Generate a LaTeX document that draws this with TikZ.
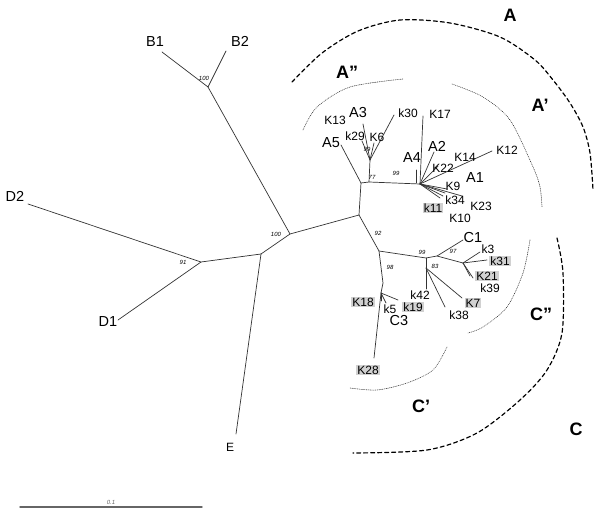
\documentclass[tikz,border=0pt]{standalone}
\usepackage{fontspec}
\setmainfont{Liberation Sans}
\usepackage{tikz}
\usepackage{xcolor}
\usetikzlibrary{arrows.meta}

\begin{document}
\begin{tikzpicture}[line cap=round,line join=round,x=1pt,y=-1pt,
  tree/.style={line width=0.7pt,black!80},
  lab/.style={font=\fontsize{12}{12}\selectfont,inner sep=0.5pt},
  big/.style={font=\fontsize{14.5}{15}\selectfont,inner sep=0.5pt},
  boot/.style={font=\fontsize{6}{6}\selectfont\itshape,inner sep=0pt},
  hl/.style={lab,fill=black!18,inner sep=1pt},
  grp/.style={font=\fontsize{18}{18}\selectfont\bfseries,inner sep=0pt},
  dashedarc/.style={line width=1.2pt,dash pattern=on 4pt off 3pt},
  dottedarc/.style={line width=0.6pt,dash pattern=on 0.6pt off 1.2pt,black!80}]
\useasboundingbox (0,0) rectangle (602,516);

% inner nodes
\coordinate (nB) at (208,87);
\coordinate (nR) at (290,234);
\coordinate (nE) at (261,254);
\coordinate (nD) at (201,262);
\coordinate (nM) at (359,215);
\coordinate (nA) at (361,183);
\coordinate (nA77) at (369,182);
\coordinate (nA3) at (370,160);
\coordinate (nA1) at (420,184);
\coordinate (nC) at (379,251);
\coordinate (nC3) at (383,283);
\coordinate (nC3b) at (381,293);
\coordinate (nC99) at (426,258);
\coordinate (nC97) at (437,256);
\coordinate (nC1) at (463,263);
\coordinate (nC83) at (426,268);

% tips
\coordinate (tB1) at (162,52);
\coordinate (tB2) at (226,51);
\coordinate (tD2) at (28,204);
\coordinate (tD1) at (118,320);
\coordinate (tE) at (236,434);
\coordinate (tA5) at (341,145);
\coordinate (tA3) at (363,124);
\coordinate (tk29) at (362,141);
\coordinate (tK6) at (374,143);
\coordinate (tk30) at (394,115);
\coordinate (tA4b) at (416,183);
\coordinate (tA4) at (416,170);
\coordinate (tK17) at (423,116);
\coordinate (tA2) at (434,152);
\coordinate (tK22) at (438,166);
\coordinate (tK12) at (492,151);
\coordinate (tK9) at (447,189);
\coordinate (tK23) at (462,196);
\coordinate (tk34) at (443,196);
\coordinate (tk11) at (440,198);
\coordinate (tK10) at (445,193);
\coordinate (tC1) at (463,240);
\coordinate (tk3) at (480,252);
\coordinate (tk31) at (487,260);
\coordinate (tK21) at (473,278);
\coordinate (tk39) at (470,276);
\coordinate (tk42) at (426,289);
\coordinate (tK7) at (462,298);
\coordinate (tk38) at (445,307);
\coordinate (tk19) at (398,300);
\coordinate (tk5) at (386,303);
\coordinate (tK18) at (381,301);
\coordinate (tK28) at (374,358);

% branches
\draw [tree] (tB1) -- (nB) -- (tB2);
\draw [tree] (nB) -- (nR) -- (nM);
\draw [tree] (nR) -- (nE) -- (tE);
\draw [tree] (nE) -- (nD) -- (tD2);
\draw [tree] (nD) -- (tD1);
\draw [tree] (nM) -- (nA) -- (tA5);
\draw [tree] (nA) -- (nA77) -- (nA1);
\draw [tree] (nA77) -- (nA3) -- (tA3);
\draw [tree] (nA3) -- (tk29);
\draw [tree] (nA3) -- (tK6);
\draw [tree] (nA3) -- (tk30);
\draw [tree] (tA4b) -- (tA4);
\foreach \t in {tK17,tA2,tK22,tK12,tK9,tK23,tk34,tk11,tK10}
  \draw [tree] (nA1) -- (\t);
\draw [tree] (nM) -- (nC) -- (nC99) -- (nC97) -- (nC1);
\draw [tree] (nC97) -- (tC1);
\foreach \t in {tk3,tk31,tK21,tk39}
  \draw [tree] (nC1) -- (\t);
\draw [tree] (nC99) -- (nC83);
\foreach \t in {tk42,tK7,tk38}
  \draw [tree] (nC83) -- (\t);
\draw [tree] (nC) -- (nC3) -- (nC3b) -- (tK28);
\foreach \t in {tk19,tk5,tK18}
  \draw [tree] (nC3b) -- (\t);

% bootstrap values
\node [boot] (b1) at (204,78) {100};
\node [boot] (b2) at (276,234) {100};
\node [boot] (b3) at (183,262) {91};
\node [boot] (b4) at (372,177) {77};
\node [boot] (b5) at (396,173) {99};
\node [boot] (b6) at (367,149) {99};
\node [boot] (b7) at (378,233) {92};
\node [boot] (b8) at (422,252) {99};
\node [boot] (b9) at (453,251) {97};
\node [boot] (b10) at (390,267) {98};
\node [boot] (b11) at (435,266) {83};

% taxa
\node [big] (lB1) at (155,42) {B1};
\node [big] (lB2) at (240,41) {B2};
\node [big] (lD2) at (15,196) {D2};
\node [big] (lD1) at (108,322) {D1};
\node [lab] (lE) at (230,447) {E};
\node [big] (lA5) at (331,143) {A5};
\node [big] (lA3) at (358,113) {A3};
\node [lab] (lK13) at (335,120) {K13};
\node [lab] (lk29) at (355,136) {k29};
\node [lab] (lK6) at (377,137) {K6};
\node [lab] (lk30) at (408,113) {k30};
\node [lab] (lK17) at (440,114) {K17};
\node [big] (lA2) at (437,146) {A2};
\node [big] (lA4) at (412,158) {A4};
\node [lab] (lK14) at (465,157) {K14};
\node [lab] (lK12) at (507,150) {K12};
\node [lab] (lK22) at (443,168) {K22};
\node [big] (lA1) at (475,178) {A1};
\node [lab] (lK9) at (453,186) {K9};
\node [lab] (lk34) at (455,200) {k34};
\node [lab] (lK23) at (481,206) {K23};
\node [hl] (lk11) at (433,208) {k11};
\node [lab] (lK10) at (460,218) {K10};
\node [big] (lC1) at (473,238) {C1};
\node [lab] (lk3) at (488,249) {k3};
\node [hl] (lk31) at (500,261) {k31};
\node [hl] (lK21) at (487,276) {K21};
\node [lab] (lk39) at (490,288) {k39};
\node [lab] (lk42) at (420,295) {k42};
\node [hl] (lK7) at (473,303) {K7};
\node [lab] (lk38) at (459,315) {k38};
\node [hl] (lK18) at (363,302) {K18};
\node [lab] (lk5) at (390,309) {k5};
\node [big] (lC3) at (399,321) {C3};
\node [hl] (lk19) at (413,307) {k19};
\node [hl] (lK28) at (368,370) {K28};

% groups
\draw [dashedarc] plot [smooth] coordinates {(292,82) (322,53) (358,31) (400,20) (450,23) (500,37) (535,60) (553,80) (570,103) (583,127) (590,153) (593,190)};
\draw [dottedarc] plot [smooth] coordinates {(303,130) (317,107) (350,87) (403,79)};
\draw [dottedarc] plot [smooth] coordinates {(452,84) (483,97) (510,120) (533,167) (540,187) (542,207)};
\draw [dottedarc] plot [smooth] coordinates {(530,240) (523,273) (507,307) (483,327) (468,333)};
\draw [dottedarc] plot [smooth] coordinates {(447,347) (433,370) (407,383) (377,390) (350,388)};
\draw [dashedarc] plot [smooth] coordinates {(557,238) (563,273) (562,333) (547,370) (520,400) (477,433) (427,450) (353,453)};
\node [grp] (gA) at (510,15) {A};
\node [grp] (gA2) at (347,72) {A''};
\node [grp] (gA1) at (540,105) {A’};
\node [grp] (gC2) at (541,314) {C''};
\node [grp] (gC1) at (421,406) {C’};
\node [grp] (gC) at (576,429) {C};

% scale
\coordinate (s0) at (20,507);
\coordinate (s1) at (202,507);
\draw [line width=1.4pt,black!60] (s0) -- (s1) node [boot,midway,above=2pt] {0.1};
\end{tikzpicture}
\end{document}
